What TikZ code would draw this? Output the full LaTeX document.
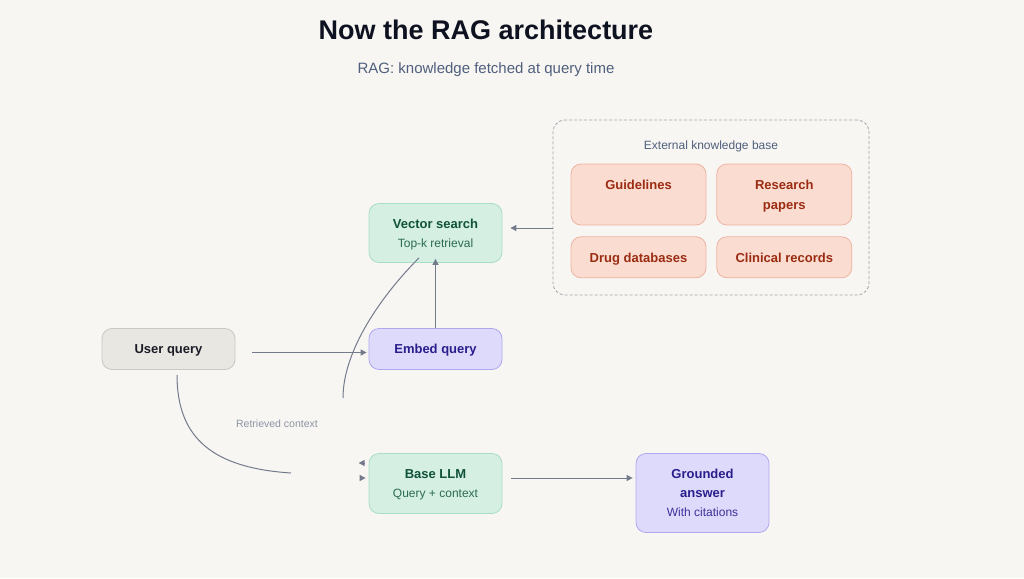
\documentclass[tikz,border=0pt]{standalone}
\usepackage{fontspec}
\setmainfont{Liberation Sans}
\usepackage{xcolor}
\usepackage{tikz}
\usetikzlibrary{arrows.meta,positioning,fit,calc}
\definecolor{pagebg}{HTML}{F8F6F2}
\definecolor{titlec}{HTML}{0E1220}
\definecolor{slate}{HTML}{4F5F7D}
\definecolor{usrfill}{HTML}{E9E7E2}
\definecolor{usrline}{HTML}{CBC8C1}
\definecolor{usrtext}{HTML}{1B1D26}
\definecolor{embfill}{HTML}{DDDAFB}
\definecolor{embline}{HTML}{AFA8F0}
\definecolor{embtext}{HTML}{2A1E8C}
\definecolor{embsub}{HTML}{3C3199}
\definecolor{mintfill}{HTML}{D5EFE3}
\definecolor{mintline}{HTML}{A9DDC4}
\definecolor{minttext}{HTML}{10533A}
\definecolor{mintsub}{HTML}{2B6B51}
\definecolor{srcfill}{HTML}{FADCD1}
\definecolor{srcline}{HTML}{EDB4A3}
\definecolor{srctext}{HTML}{9B2C12}
\definecolor{framec}{HTML}{A0A4AD}
\definecolor{arrowc}{HTML}{737A8C}
\definecolor{notec}{HTML}{8C93A3}
\newcommand{\sublabel}[2]{{\fontsize{12}{19}\selectfont\mdseries\color{#1}#2}}

\begin{document}
\begin{tikzpicture}[
        x=1pt, y=-1pt,
        b/.style={draw, rounded corners=10pt, line width=0.8pt, align=center, minimum width=133pt, inner sep=0pt, text depth=0pt, font=\fontsize{13}{19}\selectfont\bfseries},
        usr/.style={b, fill=usrfill, draw=usrline, text=usrtext, minimum height=41pt},
        emb/.style={b, fill=embfill, draw=embline, text=embtext},
        mint/.style={b, fill=mintfill, draw=mintline, text=minttext},
        src/.style={draw=srcline, fill=srcfill, text=srctext, rounded corners=10pt, line width=0.8pt, align=center, minimum width=135pt, inner sep=0pt, text depth=0pt, font=\fontsize{13}{20}\selectfont\bfseries},
        tall/.style={minimum height=61pt},
        short/.style={minimum height=41pt},
        frame/.style={draw=framec, dash pattern=on 3pt off 2pt, rounded corners=12pt, line width=0.8pt},
        arr/.style={draw=arrowc, line width=1pt, -{Triangle[length=6pt,width=6pt]}},
        curve/.style={draw=arrowc, line width=1pt},
        note/.style={text=notec, font=\fontsize{10.5}{12}\selectfont}
    ]
    \fill[pagebg] (0,0) rectangle (1024,578);
    \useasboundingbox (0,0) rectangle (1024,578);

    \node[anchor=base, text=titlec, font=\fontsize{27}{30}\selectfont\bfseries] (ttl) at (486,39.5) {Now the RAG architecture};
    \node[anchor=base, text=slate, font=\fontsize{15}{18}\selectfont] (sub) at (486,74) {RAG: knowledge fetched at query time};

    \node[usr] (uq) at (168.5,349) {User query};
    \node[emb, minimum height=41pt] (eq) at (435.5,349) {Embed query};
    \node[mint, minimum height=59pt] (vec) at (435.5,233) {Vector search\\\sublabel{mintsub}{Top-k retrieval}};
    \node[mint, minimum height=60pt] (llm) at (435.5,483.5) {Base LLM\\\sublabel{mintsub}{Query + context}};
    \node[emb, minimum height=79pt] (ans) at (702.5,493) {Grounded\\answer\\\sublabel{embsub}{With citations}};

    \node[frame, minimum width=316pt, minimum height=175pt] (kb) at (711,207.5) {};
    \node[text=slate, font=\fontsize{12}{14}\selectfont] (kbt) at (711,146) {External knowledge base};
    \node[src, tall] (gd) at (638.5,194.5) {Guidelines\\\strut};
    \node[src, tall, right=10pt of gd] (rp) {Research\\papers};
    \node[src, short, below=11pt of gd] (dd) {Drug databases};
    \node[src, short, below=11pt of rp] (cr) {Clinical records};

    \coordinate (kbin) at ([yshift=5pt]vec.east);
    \coordinate (llmout) at ([yshift=5.5pt]llm.east);
    \coordinate (rc) at (343,398);
    \coordinate (lc) at (291,473);

    \draw[arr, shorten <=17pt, shorten >=2pt] ([yshift=-3.5pt]uq.east) -- ([yshift=-3.5pt]eq.west);
    \draw[arr, shorten >=-4pt] (eq) -- (vec);
    \draw[arr, shorten >=8pt] (kbin -| kb.west) -- (kbin);
    \draw[arr, shorten <=9pt, shorten >=3pt] (llmout) -- (llmout -| ans.west);

    \draw[curve] ([xshift=-16.5pt,yshift=5pt]vec.south) .. controls (382,295) and (343,350) .. (rc);
    \draw[curve] ([xshift=8.5pt,yshift=-5pt]uq.south) .. controls (177,440) and (215,468) .. (lc);
    \node[note] (rct) at (277,424) {Retrieved context};

    \draw[arr] ([xshift=-4pt,yshift=20.5pt]llm.west) -- ([xshift=-10pt,yshift=20.5pt]llm.west);
    \draw[arr] ([xshift=-9pt,yshift=5.5pt]llm.west) -- ([xshift=-3pt,yshift=5.5pt]llm.west);
\end{tikzpicture}
\end{document}
